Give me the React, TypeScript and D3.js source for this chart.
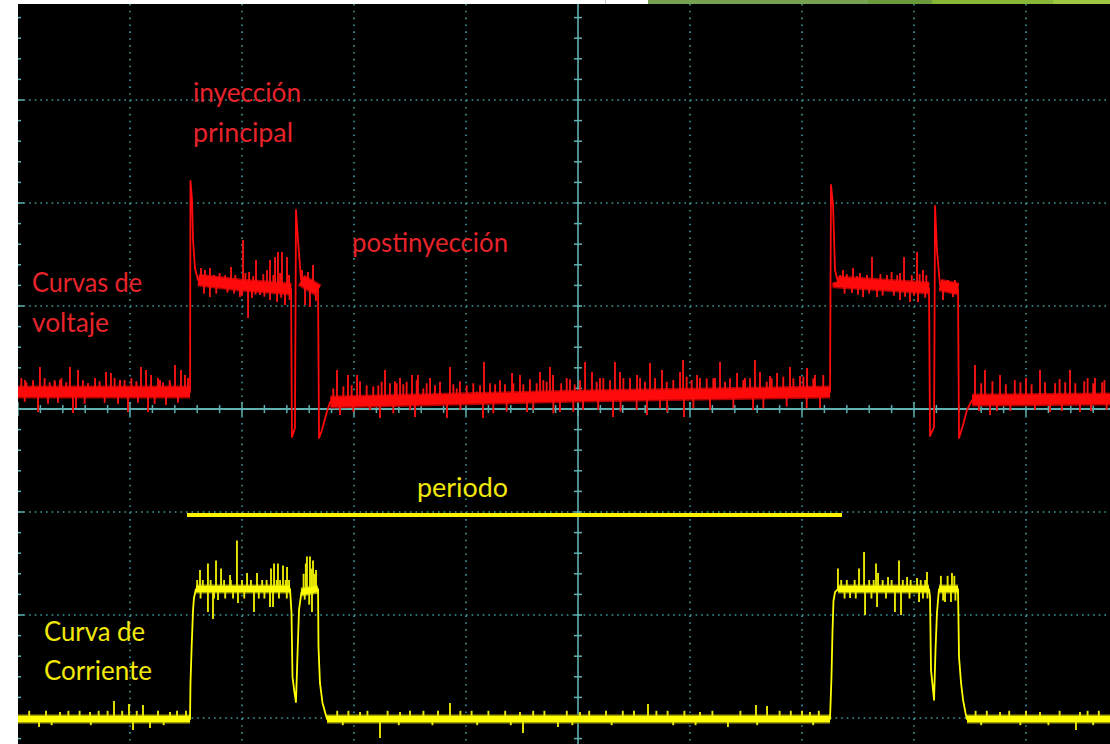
import React from 'react';
import * as d3 from 'd3';

type Pt = [number, number];

// Oscilloscope screen: 10 horizontal × 8 vertical divisions.
// Time (t) and amplitude (v) are both expressed in divisions.
const timeGrid = [1, 2, 3, 4, 6, 7, 8, 9];
const ampGrid = [-3, -2, -1, 1, 2, 3];

// Injector voltage (channel 1, red)
const voltageTrace: Pt[] = [
  [0, 0.165], [1.536, 0.165], [1.54, 2.214], [1.554, 2.029], [1.563, 1.641], [1.58, 1.369],
  [1.607, 1.252], [1.982, 1.204], [2.438, 1.165], [2.446, -0.272], [2.473, -0.184],
  [2.482, 1.932], [2.5, 1.641], [2.527, 1.252], [2.679, 1.155], [2.688, -0.282],
  [2.714, -0.204], [2.75, -0.058], [2.786, 0.068], [5.018, 0.126], [7.25, 0.165],
  [7.259, 2.175], [7.277, 1.981], [7.295, 1.35], [7.321, 1.233], [8.134, 1.175],
  [8.143, -0.262], [8.179, -0.175], [8.188, 1.971], [8.205, 1.544], [8.232, 1.204],
  [8.393, 1.165], [8.402, -0.282], [8.438, -0.155], [8.473, -0.01], [8.518, 0.087],
  [9.75, 0.097],
];

// Stretches where the trace is flat and carries its noise band
const voltageNoiseRanges: Pt[] = [
  [0, 1.536], [1.61, 2.438], [2.53, 2.679], [2.79, 7.25],
  [7.32, 8.134], [8.232, 8.393], [8.52, 9.75],
];

// Noise spikes on the voltage trace: [time, tip amplitude]
const voltageSpikes: Pt[] = [
  // resting level before the first injection
  [0.03, 0.3], [0.06, 0.07], [0.063, 0.282], [0.074, 0.26], [0.134, 0.28], [0.179, -0.029],
  [0.196, 0.408], [0.238, 0.3], [0.268, 0.05], [0.283, 0.26], [0.327, 0.28], [0.33, 0.262],
  [0.357, 0.06], [0.375, 0.282], [0.387, 0.3], [0.431, 0.26], [0.464, 0.408], [0.491, -0.039],
  [0.518, 0.01], [0.536, 0.379], [0.58, 0.28], [0.595, 0.05], [0.625, 0.252], [0.688, 0.301],
  [0.729, 0.27], [0.774, 0.06], [0.786, 0.359], [0.83, 0.35], [0.863, 0.3], [0.893, 0.05],
  [0.908, 0.26], [0.911, 0.282], [0.952, 0.28], [0.982, -0.029], [1.012, 0.3], [1.057, 0.27],
  [1.071, 0.06], [1.098, 0.408], [1.143, 0.379], [1.161, -0.029], [1.188, 0.33], [1.22, 0.05],
  [1.25, 0.3], [1.268, 0.282], [1.295, 0.26], [1.321, 0.039], [1.354, 0.28], [1.357, 0.262],
  [1.402, 0.427], [1.429, 0.06], [1.455, 0.379], [1.491, 0.33], [1.518, 0.3],
  // main injection plateau
  [1.634, 1.369], [1.65, 1.3], [1.66, 1.12], [1.67, 1.35], [1.714, 1.369], [1.714, 1.087],
  [1.75, 1.3], [1.77, 1.12], [1.8, 1.32], [1.85, 1.3], [1.87, 1.13], [1.902, 1.379],
  [1.93, 1.12], [1.94, 1.3], [1.982, 1.087], [2.0, 1.1], [2.009, 1.641], [2.03, 1.32],
  [2.054, 0.883], [2.063, 1.33], [2.089, 1.078], [2.1, 1.29], [2.12, 1.11], [2.125, 1.447],
  [2.161, 1.107], [2.19, 1.31], [2.2, 1.09], [2.223, 1.35], [2.25, 1.447], [2.25, 1.058],
  [2.28, 1.3], [2.295, 1.476], [2.313, 1.039], [2.321, 1.524], [2.34, 1.32], [2.35, 1.08],
  [2.357, 1.524], [2.384, 1.01], [2.402, 1.476], [2.42, 1.3], [2.425, 1.06],
  // post-injection plateau
  [2.536, 1.35], [2.563, 1.01], [2.589, 1.33], [2.607, 0.99], [2.634, 1.398], [2.66, 1.05],
  // resting level between injections
  [2.815, 0.2], [2.848, 0.379], [2.875, -0.058], [2.905, 0.22], [2.946, 0.33], [2.979, 0.23],
  [2.994, -0.026], [3.027, 0.33], [3.054, 0.27], [3.113, 0.23], [3.143, -0.01], [3.172, 0.22],
  [3.217, 0.23], [3.232, -0.087], [3.247, 0.265], [3.277, 0.379], [3.321, 0.25], [3.351, -0.042],
  [3.366, 0.27], [3.381, 0.25], [3.411, 0.301], [3.44, 0.24], [3.47, 0.265], [3.5, -0.01],
  [3.518, 0.33], [3.545, -0.078], [3.56, 0.28], [3.571, 0.33], [3.619, 0.2], [3.649, 0.25],
  [3.679, 0.301], [3.723, 0.23], [3.768, 0.265], [3.83, -0.087], [3.857, 0.408], [3.887, 0.24],
  [3.917, 0.2], [3.946, 0.27], [3.95, -0.01], [4.006, 0.23], [4.065, 0.25], [4.095, 0.17],
  [4.125, 0.23], [4.152, -0.087], [4.161, 0.456], [4.214, 0.25], [4.244, -0.042], [4.26, 0.24],
  [4.304, 0.28], [4.348, 0.24], [4.363, -0.026], [4.411, 0.35], [4.423, 0.25], [4.482, 0.33],
  [4.512, 0.24], [4.545, -0.029], [4.571, 0.29], [4.601, -0.01], [4.631, 0.25], [4.661, 0.359],
  [4.69, 0.28], [4.72, 0.265], [4.75, 0.408], [4.777, 0.33], [4.78, -0.042], [4.839, -0.029],
  [4.85, 0.25], [4.899, 0.3], [4.929, 0.29], [4.958, -0.026], [4.97, 0.24], [5.018, 0.28],
  [5.045, -0.01], [5.063, 0.456], [5.125, 0.359], [5.167, 0.265], [5.18, -0.01], [5.196, 0.3],
  [5.226, 0.3], [5.286, 0.28], [5.313, -0.078], [5.33, 0.456], [5.375, 0.359], [5.38, -0.026],
  [5.405, 0.3], [5.464, 0.3], [5.524, -0.01], [5.527, 0.33], [5.554, 0.3], [5.598, 0.265],
  [5.616, -0.058], [5.643, 0.447], [5.688, 0.3], [5.732, 0.006], [5.75, 0.379], [5.792, 0.265],
  [5.795, -0.029], [5.851, 0.282], [5.911, 0.359], [5.938, 0.476], [5.946, -0.078], [5.97, 0.314],
  [6.015, 0.282], [6.03, 0.006], [6.063, 0.33], [6.089, 0.3], [6.149, 0.298], [6.179, -0.01],
  [6.208, 0.298], [6.223, 0.3], [6.268, 0.456], [6.313, 0.265], [6.357, 0.298], [6.387, 0.006],
  [6.42, 0.35], [6.476, 0.282], [6.491, 0.3], [6.536, 0.298], [6.563, -0.01], [6.58, 0.476],
  [6.625, 0.359], [6.655, 0.006], [6.685, 0.265], [6.714, 0.32], [6.729, 0.298], [6.777, 0.35],
  [6.833, 0.314], [6.863, 0.023], [6.893, 0.408], [6.923, 0.298], [6.982, 0.32], [7.012, 0.314],
  [7.042, 0.006], [7.045, 0.398], [7.101, 0.298], [7.116, 0.33], [7.161, 0.01], [7.19, 0.33],
  // second main injection plateau
  [7.34, 1.3], [7.366, 1.35], [7.38, 1.12], [7.4, 1.31], [7.446, 1.126], [7.455, 1.369],
  [7.49, 1.29], [7.5, 1.11], [7.518, 1.32], [7.545, 1.087], [7.58, 1.3], [7.6, 1.12],
  [7.625, 1.476], [7.67, 1.087], [7.7, 1.31], [7.72, 1.1], [7.759, 1.301], [7.8, 1.33],
  [7.82, 1.1], [7.85, 1.3], [7.875, 1.32], [7.875, 1.058], [7.911, 1.476], [7.92, 1.09],
  [7.964, 1.039], [7.98, 1.3], [8.0, 1.1], [8.027, 1.524], [8.036, 1.039], [8.05, 1.31],
  [8.08, 1.35], [8.1, 1.08], [8.11, 1.3],
  // second post-injection plateau
  [8.25, 1.252], [8.259, 1.058], [8.304, 1.252], [8.348, 1.087], [8.366, 1.252],
  // resting level after the second injection
  [8.545, 0.427], [8.58, -0.02], [8.6, 0.25], [8.634, 0.379], [8.679, -0.058], [8.7, 0.27],
  [8.74, -0.02], [8.768, 0.33], [8.82, 0.24], [8.86, -0.02], [8.9, 0.28], [8.95, 0.26],
  [9.0, 0.3], [9.05, 0.24], [9.08, -0.01], [9.125, 0.379], [9.17, 0.26], [9.214, -0.029],
  [9.26, 0.25], [9.3, 0.29], [9.32, -0.02], [9.35, 0.26], [9.393, 0.379], [9.44, 0.25],
  [9.482, -0.029], [9.52, 0.27], [9.55, 0.3], [9.58, -0.02], [9.6, 0.25], [9.616, 0.301],
  [9.68, 0.26], [9.7, 0.28], [9.72, -0.01],
];

// Injector current (channel 2, yellow)
const currentTrace: Pt[] = [
  [0, -3.01], [1.536, -3.01], [1.54, -2.66], [1.551, -2.291], [1.563, -1.951],
  [1.571, -1.835], [1.589, -1.748], [2.429, -1.748], [2.442, -1.981], [2.451, -2.602],
  [2.469, -2.757], [2.482, -2.845], [2.496, -2.369], [2.509, -1.951], [2.531, -1.777],
  [2.679, -1.748], [2.683, -2.311], [2.696, -2.66], [2.719, -2.854], [2.741, -2.942],
  [2.759, -3.01], [7.25, -3.01], [7.263, -2.612], [7.272, -2.175], [7.281, -1.864],
  [7.295, -1.777], [7.321, -1.748], [8.134, -1.748], [8.143, -1.825], [8.152, -2.534],
  [8.17, -2.728], [8.179, -2.825], [8.192, -2.34], [8.205, -1.981], [8.223, -1.748],
  [8.393, -1.748], [8.402, -2.408], [8.42, -2.66], [8.438, -2.825], [8.46, -2.951],
  [8.473, -3.01], [9.75, -3.01],
];

const currentNoiseRanges: Pt[] = [
  [0, 1.536], [1.59, 2.429], [2.531, 2.679], [2.759, 7.25],
  [7.321, 8.134], [8.223, 8.393], [8.473, 9.75],
];

// Noise spikes on the current trace: [time, tip amplitude]
const currentSpikes: Pt[] = [
  // resting level
  [0.1, -2.93], [0.188, -3.087], [0.25, -2.93], [0.3, -3.07], [0.375, -2.942], [0.45, -2.93],
  [0.55, -2.93], [0.643, -2.942], [0.65, -3.07], [0.72, -2.93], [0.8, -2.93], [0.857, -2.835],
  [0.93, -2.93], [0.991, -2.864], [1.027, -3.117], [1.06, -2.93], [1.116, -2.874],
  [1.179, -3.097], [1.25, -2.93], [1.3, -3.07], [1.357, -2.942], [1.42, -2.93], [1.5, -2.93],
  // main injection plateau
  [1.6, -1.66], [1.625, -1.563], [1.63, -1.84], [1.65, -1.66], [1.696, -1.5], [1.696, -1.971],
  [1.72, -1.66], [1.741, -2.039], [1.75, -1.84], [1.768, -1.471], [1.786, -1.854],
  [1.813, -1.549], [1.84, -1.66], [1.85, -1.84], [1.893, -1.612], [1.9, -1.66], [1.92, -1.84],
  [1.955, -1.277], [1.964, -1.883], [2.0, -1.66], [2.02, -1.84], [2.045, -1.592], [2.08, -1.66],
  [2.107, -1.971], [2.134, -1.592], [2.15, -1.84], [2.18, -1.66], [2.2, -1.84], [2.22, -1.66],
  [2.25, -1.922], [2.259, -1.549], [2.277, -1.922], [2.286, -1.5], [2.31, -1.66], [2.321, -1.5],
  [2.33, -1.84], [2.34, -1.66], [2.366, -1.52], [2.39, -1.66], [2.4, -1.84], [2.402, -1.534],
  [2.42, -1.66],
  // post-injection plateau
  [2.55, -1.6], [2.56, -1.85], [2.57, -1.5], [2.58, -1.432], [2.6, -1.9], [2.607, -1.432],
  [2.62, -1.55], [2.625, -1.971], [2.634, -1.471], [2.65, -1.6], [2.661, -1.563],
  // resting level between injections
  [2.85, -2.93], [2.9, -3.07], [2.95, -2.93], [3.054, -2.942], [3.12, -2.93], [3.232, -3.194],
  [3.3, -2.93], [3.4, -3.07], [3.411, -2.942], [3.5, -2.93], [3.62, -2.93], [3.7, -3.07],
  [3.75, -2.93], [3.857, -2.854], [3.95, -2.93], [4.05, -2.93], [4.1, -3.07], [4.2, -2.93],
  [4.35, -2.93], [4.4, -3.07], [4.482, -2.942], [4.509, -3.146], [4.6, -2.93], [4.7, -2.93],
  [4.821, -3.087], [4.9, -2.93], [4.95, -3.07], [5.018, -2.942], [5.1, -2.93], [5.25, -2.93],
  [5.3, -3.07], [5.4, -2.93], [5.5, -2.93], [5.625, -2.864], [5.7, -2.93], [5.8, -2.93],
  [5.85, -3.07], [5.95, -2.93], [6.05, -3.07], [6.089, -2.942], [6.2, -2.93], [6.339, -3.087],
  [6.45, -2.93], [6.589, -2.874], [6.6, -3.07], [6.688, -2.883], [6.8, -2.93], [6.9, -2.93],
  [7.0, -2.93], [7.071, -2.942], [7.1, -3.07], [7.15, -2.93],
  // second main injection plateau
  [7.321, -1.549], [7.35, -1.66], [7.38, -1.84], [7.4, -1.66], [7.429, -1.835], [7.47, -1.66],
  [7.48, -1.84], [7.509, -1.549], [7.554, -1.388], [7.563, -2.0], [7.6, -1.66], [7.62, -1.84],
  [7.64, -1.66], [7.661, -1.5], [7.67, -1.922], [7.679, -1.592], [7.72, -1.66], [7.75, -1.84],
  [7.768, -1.631], [7.8, -1.66], [7.83, -1.971], [7.866, -1.471], [7.884, -2.0], [7.9, -1.66],
  [7.938, -1.631], [7.96, -1.84], [7.97, -1.66], [8.027, -1.641], [8.045, -1.874],
  [8.06, -1.66], [8.08, -1.84], [8.1, -1.66], [8.116, -1.583], [8.12, -1.84],
  // second post-injection plateau
  [8.24, -1.62], [8.26, -1.86], [8.277, -1.874], [8.3, -1.62], [8.33, -1.874], [8.339, -1.592],
  [8.36, -1.62], [8.37, -1.86],
  // resting level after the second injection
  [8.55, -2.93], [8.6, -3.07], [8.65, -2.93], [8.768, -2.942], [8.85, -2.93], [8.95, -3.07],
  [9.0, -2.93], [9.125, -2.942], [9.2, -3.07], [9.3, -2.93], [9.446, -3.117], [9.482, -2.942],
  [9.55, -2.93], [9.6, -3.07], [9.65, -2.93],
];

// Period marker bar: [start, end] in time divisions, and its level
const periodSpan: Pt = [1.509, 7.357];
const periodLevel = -1.029;

const voltageLabels = ['inyección', 'principal', 'postinyección', 'Curvas de', 'voltaje'];
const currentLabels = ['periodo', 'Curva de', 'Corriente'];

const W = 1110;
const H = 744;
const x = d3.scaleLinear().domain([0, 10]).range([18, 1138]);
const y = d3.scaleLinear().domain([-4, 4]).range([821, -3]);
const line = d3.line<Pt>().x((d) => x(d[0])).y((d) => y(d[1]));
const bis = d3.bisector((d: Pt) => d[0]);

function valueAt(trace: Pt[], t: number): number {
  const i = bis.right(trace, t);
  if (i <= 0) return trace[0][1];
  if (i >= trace.length) return trace[trace.length - 1][1];
  const a = trace[i - 1];
  const b = trace[i];
  const k = (t - a[0]) / (b[0] - a[0] || 1);
  return a[1] + (b[1] - a[1]) * k;
}

function segment(trace: Pt[], r: Pt): Pt[] {
  const pts: Pt[] = [[r[0], valueAt(trace, r[0])]];
  trace.forEach((p) => {
    if (p[0] > r[0] && p[0] < r[1]) pts.push(p);
  });
  pts.push([r[1], valueAt(trace, r[1])]);
  return pts;
}

const GRID = '#3d9c9c';
const AXIS = '#5fb0b0';
const RED = '#ff0a0a';
const YEL = '#ffff00';
const RED_TXT = '#e6232b';
const YEL_TXT = '#f2e80a';

function Channel({ trace, ranges, spikes, color, fringe, band, spikeColor }: {
  trace: Pt[]; ranges: Pt[]; spikes: Pt[]; color: string; fringe: string; band: number; spikeColor: string;
}) {
  return (
    <g>
      {ranges.map((r, i) => (
        <path key={'f' + i} d={line(segment(trace, r)) || ''} fill="none" stroke={fringe} strokeWidth={band + 3} />
      ))}
      {spikes.map((s, i) => (
        <line key={'s' + i} x1={x(s[0])} x2={x(s[0])} y1={y(valueAt(trace, s[0]))} y2={y(s[1])} stroke={spikeColor} strokeWidth={1.9} />
      ))}
      {ranges.map((r, i) => (
        <path key={'b' + i} d={line(segment(trace, r)) || ''} fill="none" stroke={color} strokeWidth={band} />
      ))}
      <path d={line(trace) || ''} fill="none" stroke={color} strokeWidth={1.8} strokeLinejoin="round" />
    </g>
  );
}

export default function App() {
  const left = 18;
  const top = 4;
  const minorT = d3.range(0, 10.01, 0.2);
  const minorV = d3.range(-4, 4.01, 0.2);
  const fontFamily = 'Lato, "Open Sans", sans-serif';
  return (
    <div style={{ position: 'absolute', left: 0, top: 0 }}>
      <svg width={W} height={H} style={{ display: 'block' }}>
        <rect x={0} y={0} width={W} height={H} fill="#ffffff" />
        {/* slide decoration strip along the top edge */}
        <rect x={648} y={0} width={220} height={top} fill="#77a150" />
        <rect x={868} y={0} width={64} height={top} fill="#6a9a3c" />
        <rect x={932} y={0} width={121} height={top} fill="#88b637" />
        <rect x={1053} y={0} width={57} height={top} fill="#9dc83f" />
        <rect x={605} y={0} width={1} height={top} fill="#c8c8c8" />

        <defs>
          <clipPath id="screen">
            <rect x={left} y={top} width={W - left} height={H - top} />
          </clipPath>
        </defs>
        <rect x={left} y={top} width={W - left} height={H - top} fill="#000" />

        <g clipPath="url(#screen)">
          {/* dotted graticule */}
          {timeGrid.map((t) => (
            <line key={'vg' + t} x1={x(t)} x2={x(t)} y1={y(4)} y2={y(-4)} stroke={GRID} strokeWidth={1.6} strokeDasharray="1.6 5.27" />
          ))}
          {ampGrid.map((v) => (
            <line key={'hg' + v} x1={x(0)} x2={x(10)} y1={y(v)} y2={y(v)} stroke={GRID} strokeWidth={1.6} strokeDasharray="1.6 4" />
          ))}
          {/* centre axes with minor ticks */}
          <line x1={x(0)} x2={x(10)} y1={y(0)} y2={y(0)} stroke={AXIS} strokeWidth={1.8} />
          <line x1={x(5)} x2={x(5)} y1={y(4)} y2={y(-4)} stroke={AXIS} strokeWidth={1.6} />
          {minorT.map((t, i) => {
            const major = i % 5 === 0;
            return <line key={'mt' + i} x1={x(t)} x2={x(t)} y1={y(0) - (major ? 7 : 4)} y2={y(0) + (major ? 7 : 4)} stroke={AXIS} strokeWidth={1.5} />;
          })}
          {minorV.map((v, i) => (
            <line key={'mv' + i} x1={x(5) - 4} x2={x(5) + 4} y1={y(v)} y2={y(v)} stroke={AXIS} strokeWidth={1.5} />
          ))}
          {/* edge ticks along the left border */}
          {minorV.map((v, i) => (
            <line key={'ev' + i} x1={x(0)} x2={x(0) + (i % 5 === 0 ? 6 : 3)} y1={y(v)} y2={y(v)} stroke={AXIS} strokeWidth={1.5} />
          ))}

          <Channel trace={voltageTrace} ranges={voltageNoiseRanges} spikes={voltageSpikes} color={RED} fringe="#b00000" band={10} spikeColor="#f41212" />
          <Channel trace={currentTrace} ranges={currentNoiseRanges} spikes={currentSpikes} color={YEL} fringe="#a0a000" band={6} spikeColor="#e8e800" />

          <line x1={x(periodSpan[0])} x2={x(periodSpan[1])} y1={y(periodLevel)} y2={y(periodLevel)} stroke="#fff200" strokeWidth={4} />
        </g>

        <g fontFamily={fontFamily} fontSize={26}>
          <text x={193} y={102} fill={RED_TXT} textLength={108} lengthAdjust="spacingAndGlyphs">{voltageLabels[0]}</text>
          <text x={193} y={142} fill={RED_TXT} textLength={100} lengthAdjust="spacingAndGlyphs">{voltageLabels[1]}</text>
          <text x={352} y={252} fill={RED_TXT} textLength={156} lengthAdjust="spacingAndGlyphs">{voltageLabels[2]}</text>
          <text x={32} y={292} fill={RED_TXT} textLength={110} lengthAdjust="spacingAndGlyphs">{voltageLabels[3]}</text>
          <text x={32} y={332} fill={RED_TXT} textLength={77} lengthAdjust="spacingAndGlyphs">{voltageLabels[4]}</text>
          <text x={417} y={497} fill={YEL_TXT} textLength={91} lengthAdjust="spacingAndGlyphs">{currentLabels[0]}</text>
          <text x={44} y={641} fill={YEL_TXT} textLength={101} lengthAdjust="spacingAndGlyphs">{currentLabels[1]}</text>
          <text x={44} y={680} fill={YEL_TXT} textLength={108} lengthAdjust="spacingAndGlyphs">{currentLabels[2]}</text>
        </g>
      </svg>
    </div>
  );
}
